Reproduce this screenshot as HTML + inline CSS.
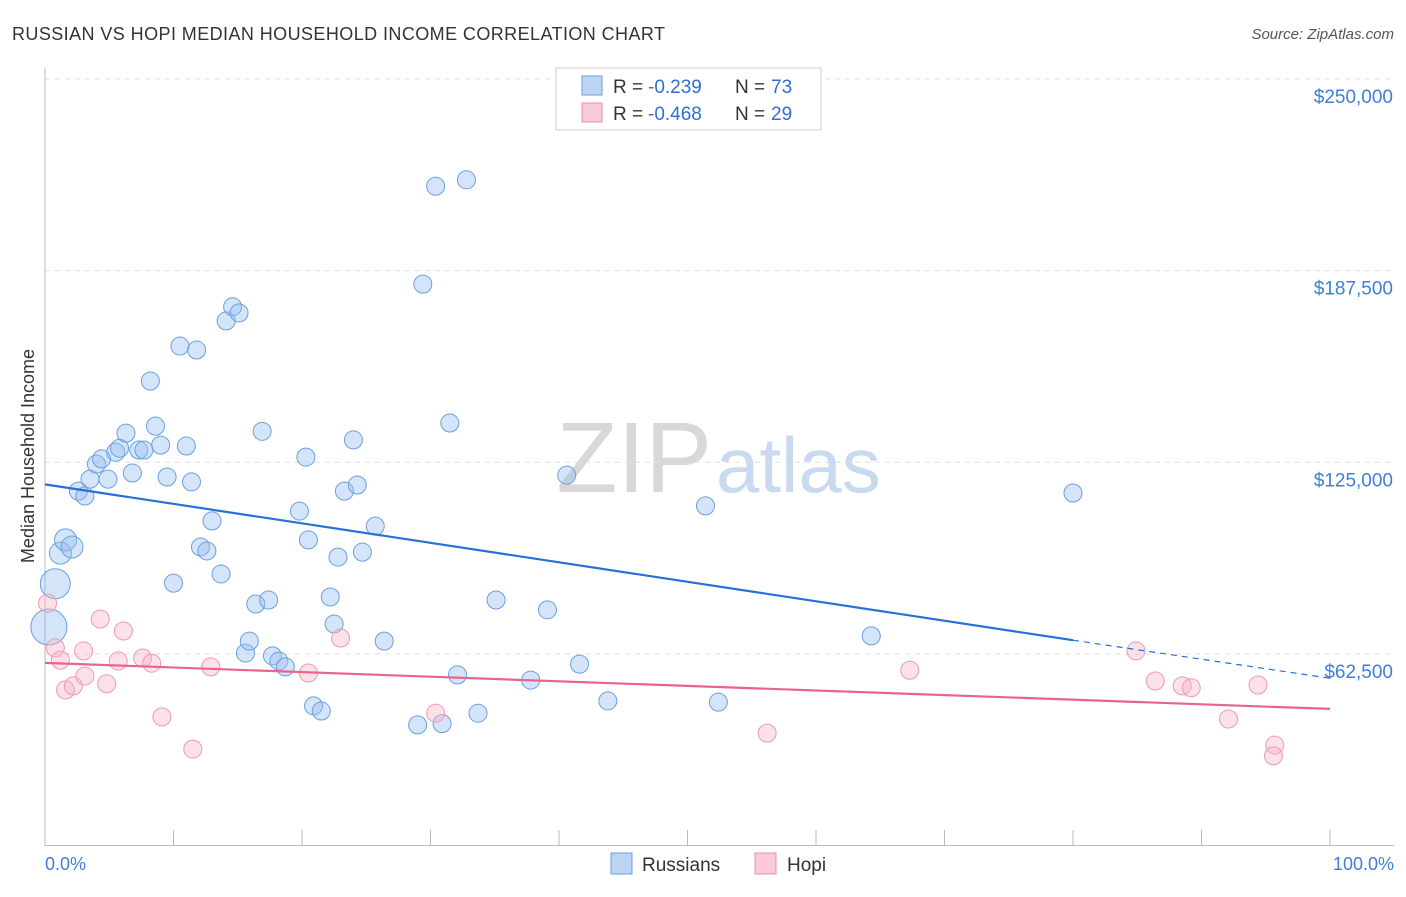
<!DOCTYPE html>
<html><head><meta charset="utf-8"><style>
body{margin:0;background:#fff;font-family:"Liberation Sans",sans-serif;}
svg text{font-family:"Liberation Sans",sans-serif;}
</style></head><body>
<svg id="c" width="1406" height="892" xmlns="http://www.w3.org/2000/svg">
<text x="12" y="40" font-size="18" fill="#333" textLength="653">RUSSIAN VS HOPI MEDIAN HOUSEHOLD INCOME CORRELATION CHART</text>
<text x="1394" y="39" font-size="15" fill="#555" font-style="italic" text-anchor="end">Source: ZipAtlas.com</text>
<text x="712" y="492" font-size="100" fill="#d8d8d8" font-family="Liberation Serif" text-anchor="end">ZIP</text>
<text x="716" y="492" font-size="78" fill="#c9d9ef">atlas</text>
<g id="grid"></g><g id="axes"></g><g id="pts"></g><g id="lines"></g>
<text transform="translate(34,456) rotate(-90)" font-size="18" fill="#333" text-anchor="middle">Median Household Income</text>
<text x="45" y="870" font-size="18" fill="#3f7fd6">0.0%</text>
<text x="1394" y="870" font-size="18" fill="#3f7fd6" text-anchor="end">100.0%</text>
<g>
<rect x="556" y="68" width="265" height="62" fill="#fff" stroke="#ccc"/>
<rect x="582" y="76" width="20" height="19" fill="#bcd5f5" stroke="#6a9fe0"/>
<rect x="582" y="103" width="20" height="19" fill="#f9cad8" stroke="#e98fab"/>
<text x="613" y="93" font-size="19" fill="#333">R =</text>
<text x="648" y="93" font-size="19" fill="#2f6fd0">-0.239</text>
<text x="735" y="93" font-size="19" fill="#333">N =</text>
<text x="771" y="93" font-size="19" fill="#2f6fd0">73</text>
<text x="613" y="120" font-size="19" fill="#333">R =</text>
<text x="648" y="120" font-size="19" fill="#2f6fd0">-0.468</text>
<text x="735" y="120" font-size="19" fill="#333">N =</text>
<text x="771" y="120" font-size="19" fill="#2f6fd0">29</text>
</g>
<g>
<rect x="611" y="853" width="21" height="21" fill="#bcd5f5" stroke="#6a9fe0"/>
<text x="642" y="871" font-size="19" fill="#333">Russians</text>
<rect x="755" y="853" width="21" height="21" fill="#f9cad8" stroke="#e98fab"/>
<text x="787" y="871" font-size="19" fill="#333">Hopi</text>
</g>
</svg>
<script>
const yTicks=[62500,125000,187500,250000];
const yTickLabels=["$62,500","$125,000","$187,500","$250,000"];
const russX=[0.3,0.8,1.2,1.6,2.1,2.6,3.1,3.5,4.0,4.4,4.9,5.5,5.8,6.3,6.8,7.3,7.7,8.2,8.6,9.0,9.5,10.0,10.5,11.0,11.4,11.8,12.1,12.6,13.0,13.7,14.1,14.6,15.1,15.6,15.9,16.4,16.9,17.4,17.7,18.2,18.7,19.8,20.3,20.5,20.9,21.5,22.2,22.5,22.8,23.3,24.0,24.3,24.7,25.7,26.4,29.0,29.4,30.4,30.9,31.5,32.1,32.8,33.7,35.1,37.8,39.1,40.6,41.6,43.8,51.4,52.4,64.3,80.0];
const russY=[71.3,85.4,95.4,99.7,97.4,115.6,114.0,119.5,124.4,126.1,119.5,128.3,129.6,134.5,121.5,129.0,129.0,151.5,136.8,130.6,120.2,85.6,162.9,130.3,118.6,161.6,97.4,96.1,105.9,88.6,171.1,175.7,173.7,62.8,66.7,78.8,135.1,80.1,61.9,60.2,58.3,109.1,126.7,99.7,45.6,43.9,81.1,72.3,94.1,115.6,132.3,117.6,95.7,104.2,66.7,39.4,183.1,215.0,39.8,137.8,55.7,217.1,43.2,80.1,54.0,76.9,120.8,59.2,47.2,110.8,46.8,68.4,115.0];
const hopiX=[0.2,0.8,1.2,1.6,2.2,3.0,3.1,4.3,4.8,5.7,6.1,7.6,8.3,9.1,11.5,12.9,20.5,23.0,30.4,56.2,67.3,84.9,86.4,88.5,89.2,92.1,94.4,95.7,95.6];
const hopiY=[79.1,64.5,60.5,50.8,52.1,63.5,55.3,73.9,52.8,60.2,70.0,61.2,59.5,42.0,31.5,58.3,56.3,67.7,43.2,36.7,57.2,63.5,53.7,52.1,51.5,41.3,52.4,32.8,29.3];
const russTrend=[117.8,67.0,54.6]; // at 0%, 80%, 100% (thousands)
const hopiTrend=[59.6,44.6]; // at 0%, 100%
const NS="http://www.w3.org/2000/svg";
const X=p=>45+p*12.85;
const Y=v=>845.7-v/62500*191.7;
function mk(t,a,parent){const e=document.createElementNS(NS,t);for(const k in a)e.setAttribute(k,a[k]);document.getElementById(parent).appendChild(e);return e;}
yTicks.forEach((t,i)=>{
 const l=mk('line',{x1:45,x2:1394,y1:Y(t),y2:Y(t),stroke:'#ddd','stroke-dasharray':'5,5'},'grid');
 
 
 const tx=mk('text',{x:1393,y:Y(t)+24,'font-size':19,fill:'#3f7fd6','text-anchor':'end'},'grid');
 tx.textContent=yTickLabels[i];
 
 
});
mk('line',{x1:45,x2:45,y1:68,y2:846,stroke:'#bbb'},'axes');
mk('line',{x1:45,x2:1394,y1:845.5,y2:845.5,stroke:'#bbb'},'axes');
for(let i=0;i<=10;i++){const t=mk('line',{x1:X(i*10),x2:X(i*10),y1:830,y2:846,stroke:'#bbb'},'axes');
 
 }
russX.forEach((x,i)=>{const r=i==0?18:(i==1?15:(i<5?11:9));
 const c=mk('circle',{cx:X(x),cy:Y(russY[i]*1000),r:r,fill:'rgba(150,190,240,0.4)',stroke:'#6a9fe0','stroke-width':1},'pts');
 
 });
hopiX.forEach((x,i)=>{
 const c=mk('circle',{cx:X(x),cy:Y(hopiY[i]*1000),r:9,fill:'rgba(247,180,200,0.4)',stroke:'#eb9bb4','stroke-width':1},'pts');
 
 });
const l1=mk('line',{x1:X(0),y1:Y(russTrend[0]*1000),x2:X(80),y2:Y(russTrend[1]*1000),stroke:'#2670d8','stroke-width':2.2},'lines');


const l2=mk('line',{x1:X(80),y1:Y(russTrend[1]*1000),x2:X(100),y2:Y(russTrend[2]*1000),stroke:'#2670d8','stroke-width':1.2,'stroke-dasharray':'6,5'},'lines');


const l3=mk('line',{x1:X(0),y1:Y(hopiTrend[0]*1000),x2:X(100),y2:Y(hopiTrend[1]*1000),stroke:'#e8648f','stroke-width':2.2},'lines');


</script>
</body></html>
